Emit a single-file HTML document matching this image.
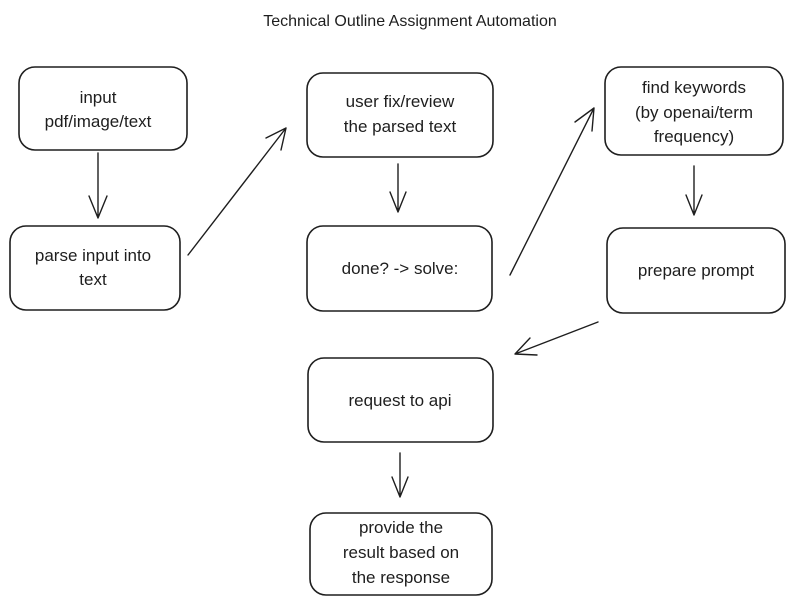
<!DOCTYPE html>
<html><head><meta charset="utf-8"><style>
html,body{margin:0;padding:0;background:#fff;}
svg{display:block;}
text{font-family:"Liberation Sans",sans-serif;font-size:17px;fill:#1e1e1e;text-anchor:middle;}
.b{fill:none;stroke:#1e1e1e;stroke-width:1.6;}
.a{fill:none;stroke:#1e1e1e;stroke-width:1.4;stroke-linecap:round;stroke-linejoin:round;}
</style></head><body>
<svg width="803" height="606" viewBox="0 0 803 606" xmlns="http://www.w3.org/2000/svg">
<text x="410" y="26" style="font-size:16px">Technical Outline Assignment Automation</text>

<rect class="b" x="19" y="67" width="168" height="83" rx="16"/>
<text x="98" y="103">input</text>
<text x="98" y="127">pdf/image/text</text>

<rect class="b" x="10" y="226" width="170" height="84" rx="16"/>
<text x="93" y="261">parse input into</text>
<text x="93" y="285">text</text>

<rect class="b" x="307" y="73" width="186" height="84" rx="16"/>
<text x="400" y="107">user fix/review</text>
<text x="400" y="132">the parsed text</text>

<rect class="b" x="307" y="226" width="185" height="85" rx="16"/>
<text x="400" y="274">done? -&gt; solve:</text>

<rect class="b" x="605" y="67" width="178" height="88" rx="16"/>
<text x="694" y="93">find keywords</text>
<text x="694" y="118">(by openai/term</text>
<text x="694" y="142">frequency)</text>

<rect class="b" x="607" y="228" width="178" height="85" rx="16"/>
<text x="696" y="276">prepare prompt</text>

<rect class="b" x="308" y="358" width="185" height="84" rx="16"/>
<text x="400" y="406">request to api</text>

<rect class="b" x="310" y="513" width="182" height="82" rx="16"/>
<text x="401" y="533">provide the</text>
<text x="401" y="558">result based on</text>
<text x="401" y="583">the response</text>

<path class="a" d="M98 153 L98 218 M89 196 L98 218 L107 196"/>
<path class="a" d="M188 255 L286 128 M266 138 L286 128 L281 150"/>
<path class="a" d="M398 164 L398 212 M390 192 L398 212 L406 192"/>
<path class="a" d="M510 275 L594 108 M575 122 L594 108 L592 131"/>
<path class="a" d="M694 166 L694 215 M686 195 L694 215 L702 195"/>
<path class="a" d="M598 322 L515 354 M530 338 L515 354 L537 355"/>
<path class="a" d="M400 453 L400 497 M392 477 L400 497 L408 477"/>
</svg>
</body></html>
